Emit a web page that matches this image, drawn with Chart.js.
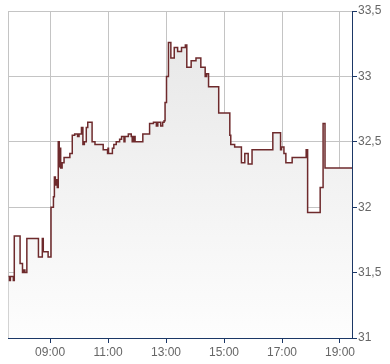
<!DOCTYPE html>
<html>
<head>
<meta charset="utf-8">
<script src="https://cdn.jsdelivr.net/npm/chart.js@4"></script>
<style>
  body { margin: 0; background: #fff; }
  canvas { display: block; }
</style>
</head>
<body>
<canvas id="priceChart" width="390" height="364"></canvas>
<script>
// intraday trades, value holds from each time until the next one
const times = [
    '07:34', '07:36', '07:38', '07:44', '07:46', '07:58', '08:03', '08:06', '08:08', '08:12',
    '08:36', '08:44', '08:46', '08:56', '09:02', '09:07', '09:09', '09:11', '09:13', '09:15',
    '09:17', '09:19', '09:20', '09:22', '09:25', '09:29', '09:41', '09:46', '09:51', '09:57',
    '10:00', '10:05', '10:08', '10:11', '10:15', '10:18', '10:27', '10:33', '10:50', '10:59',
    '11:00', '11:01', '11:09', '11:12', '11:17', '11:24', '11:28', '11:33', '11:35', '11:42',
    '11:48', '11:50', '11:53', '11:56', '12:12', '12:26', '12:34', '12:40', '12:43', '12:49',
    '12:53', '12:56', '12:58', '13:01', '13:05', '13:10', '13:17', '13:24', '13:32', '13:40',
    '13:43', '13:52', '14:02', '14:12', '14:21', '14:24', '14:28', '14:49', '15:12', '15:14',
    '15:22', '15:36', '15:43', '15:50', '15:58', '16:41', '16:57', '16:59', '17:04', '17:08',
    '17:21', '17:50', '17:53', '18:19', '18:25', '18:29', '19:25'
];
const prices = [
    31.47, 31.44, 31.47, 31.44, 31.78, 31.57, 31.50, 31.52, 31.50, 31.76,
    31.62, 31.76, 31.66, 31.62, 32.00, 32.08, 32.23, 32.17, 32.21, 32.15,
    32.50, 32.31, 32.45, 32.30, 32.34, 32.38, 32.41, 32.55, 32.56, 32.54,
    32.56, 32.61, 32.48, 32.50, 32.61, 32.65, 32.50, 32.48, 32.44, 32.41,
    32.45, 32.41, 32.45, 32.48, 32.50, 32.52, 32.54, 32.50, 32.54, 32.56,
    32.54, 32.50, 32.54, 32.50, 32.56, 32.64, 32.65, 32.62, 32.65, 32.62,
    32.65, 32.66, 32.80, 33.00, 33.26, 33.14, 33.22, 33.19, 33.22, 33.24,
    33.07, 33.12, 33.14, 33.07, 33.00, 33.02, 32.92, 32.72, 32.55, 32.48,
    32.46, 32.34, 32.41, 32.33, 32.44, 32.57, 32.44, 32.46, 32.41, 32.34,
    32.38, 32.44, 31.96, 32.15, 32.64, 32.30, 32.30
];
const xTicks = [9, 11, 13, 15, 17, 19];
const yTicks = [31, 31.5, 32, 32.5, 33, 33.5];

function toHours(t) {
    const parts = t.split(':');
    return +parts[0] + parts[1] / 60;
}

const points = times.map((t, i) => ({ x: toHours(t), y: prices[i] }));

const axisColor = '#1b3766';
const gridColor = '#c4c4c4';
const labelFont = { family: '"Liberation Sans", Arial, sans-serif', size: 12 };

// left frame line (no tick sits on the x min)
const frameLine = {
    id: 'frameLine',
    beforeDatasetsDraw(chart) {
        const a = chart.chartArea;
        const c = chart.ctx;
        c.save();
        c.strokeStyle = gridColor;
        c.lineWidth = 1;
        c.beginPath();
        c.moveTo(a.left + 0.5, a.top);
        c.lineTo(a.left + 0.5, a.bottom);
        c.stroke();
        c.restore();
    }
};

const ctx = document.getElementById('priceChart').getContext('2d');

new Chart(ctx, {
    type: 'line',
    data: {
        datasets: [{
            data: points,
            stepped: true,
            borderColor: '#6e2a2c',
            borderWidth: 1.5,
            pointRadius: 0,
            fill: 'start',
            backgroundColor: function(context) {
                const area = context.chart.chartArea;
                if (!area) return '#eee';
                const g = context.chart.ctx.createLinearGradient(0, area.top, 0, area.bottom);
                g.addColorStop(0, '#e6e6e6');
                g.addColorStop(1, '#fdfdfd');
                return g;
            }
        }]
    },
    options: {
        responsive: false,
        devicePixelRatio: 1,
        animation: false,
        layout: {
            padding: { left: 8, top: 11, right: 0, bottom: 0 }
        },
        plugins: {
            legend: { display: false },
            tooltip: { enabled: false }
        },
        scales: {
            x: {
                type: 'linear',
                min: 7.55,
                max: 19.414,
                afterBuildTicks: function(axis) {
                    axis.ticks = xTicks.map(v => ({ value: v }));
                },
                afterFit: function(axis) { axis.height = 26; },
                grid: {
                    color: gridColor,
                    tickColor: axisColor,
                    tickLength: 5
                },
                border: { color: axisColor, width: 1 },
                ticks: {
                    color: '#666',
                    font: labelFont,
                    padding: 2,
                    maxRotation: 0,
                    callback: function(value) {
                        return String(value).padStart(2, '0') + ':00';
                    }
                }
            },
            y: {
                position: 'right',
                min: 31,
                max: 33.5,
                afterBuildTicks: function(axis) {
                    axis.ticks = yTicks.map(v => ({ value: v }));
                },
                afterFit: function(axis) { axis.width = 38; },
                grid: {
                    color: gridColor,
                    tickColor: axisColor,
                    tickLength: 5
                },
                border: { color: axisColor, width: 1 },
                ticks: {
                    color: '#666',
                    font: labelFont,
                    padding: 1,
                    callback: function(value) {
                        return String(value).replace('.', ',');
                    }
                }
            }
        }
    },
    plugins: [frameLine]
});
</script>
</body>
</html>
